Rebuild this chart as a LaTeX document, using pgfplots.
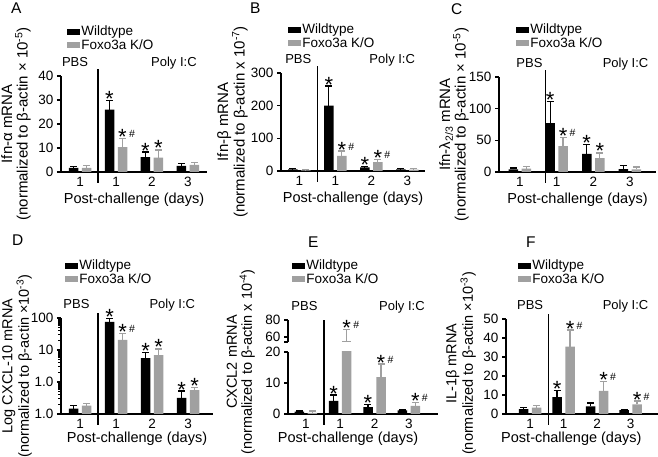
\documentclass[border=0pt]{standalone}
\usepackage{fontspec}
\setmainfont{Liberation Sans}
\usepackage{pgfplots}
\pgfplotsset{compat=1.18}
\definecolor{bg}{RGB}{160,160,160}
\newcommand{\fs}[1]{\fontsize{#1}{#1}\selectfont}
\pgfplotsset{
  panel/.style={
    scale only axis, axis lines*=left, clip mode=individual,
    axis line style={line width=1.2pt, black},
    tick style={line width=1.2pt, black},
    major tick length=4pt, tick align=outside,
    xtick={0,1,2,3}, xticklabels={1,1,2,3},
    major x tick style={draw=none},
    ymin=0,
    tick label style={font=\fs{13.5}},
    xticklabel style={yshift=2.5pt},
    /pgf/number format/assume math mode=true,
    legend style={draw=none, fill=none, font=\fs{13.5}, anchor=north west, inner sep=0pt, outer sep=0pt, row sep=-2pt, legend cell align=left},
  },
  ylab/.style 2 args={every axis y label/.style={at={([xshift=#1,yshift=#2]axis description cs:0,0.5)}, rotate=90, anchor=south, align=center, inner sep=0pt, font=\fontsize{15}{15.5}\selectfont}},
  xlab/.style 2 args={every axis x label/.style={at={([yshift=#2]axis description cs:#1,0)}, anchor=center, font=\fs{14.5}}},
  leg/.style 2 args={legend style={at={([xshift=#1,yshift=#2]axis description cs:0,1)}}},
  wt/.style={ybar, bar width=9.5pt, bar shift=-6.5pt, fill=black, draw=none, forget plot},
  ko/.style={ybar, bar width=9.5pt, bar shift=6.5pt, fill=bg, draw=none, forget plot},
  eb/.style={draw=none, mark=none, forget plot,
    error bars/.cd, y dir=plus, y explicit, error bar style={line width=1.2pt, draw=#1},
    error mark options={rotate=90, line width=1.2pt, mark size=3.5pt, draw=#1}},
}
\tikzset{
  star/.style={font=\fs{22}, anchor=base, inner sep=0pt, yshift=-6pt},
  hash/.style={font=\fs{10.5}, anchor=base, inner sep=0pt, yshift=1pt},
  grp/.style={font=\fs{13}, anchor=base, inner sep=0pt, yshift=9pt},
  sep/.style={line width=1.2pt, black},
}
\newcommand{\sw}[2]{\node[star] at ([xshift=-6.5pt]axis cs:#1,#2) {*};}
\newcommand{\sk}[2]{\node[star] at ([xshift=6.5pt]axis cs:#1,#2) {*};}
\newcommand{\skh}[2]{\node[star] at ([xshift=6.5pt]axis cs:#1,#2) {*};\node[hash] at ([xshift=16pt]axis cs:#1,#2) {\#};}
\newcommand{\legs}{%
  \addlegendimage{legend image code/.code={\fill[black] (0pt,-2.5pt) rectangle (12pt,2.5pt);}}
  \addlegendentry{Wildtype}
  \addlegendimage{legend image code/.code={\fill[bg] (0pt,-2.5pt) rectangle (12pt,2.5pt);}}
  \addlegendentry{Foxo3a K/O}}
\begin{document}
\begin{tikzpicture}
\path[use as bounding box] (0,0) rectangle (658pt,457pt);
\foreach \L/\X/\Y in {A/11/454,B/250/454,C/451/454,D/12/222,E/308/220,F/526/220}
  \node[anchor=north west, font=\fs{15.5}, inner sep=0pt] at (\X pt,\Y pt) {\L};

% ---------- A ----------
\begin{axis}[panel, at={(61pt,285pt)}, anchor=south west, width=146pt, height=96pt,
  xmin=-0.53, xmax=3.53, ymax=40, ytick={0,10,20,30,40},
  ylab={-30pt}{0pt}, xlab={0.5}{-28pt}, leg={6pt}{52pt},
  ylabel={Ifn-α mRNA\\(normalized to β-actin × 10\textsuperscript{-5})},
  xlabel={Post-challenge (days)}]
\addplot[wt] coordinates {(0,1.7) (1,26) (2,6.2) (3,2.5)};
\addplot[ko] coordinates {(0,1.7) (1,10.4) (2,6.0) (3,3.0)};
\addplot[eb=black] coordinates {(-0.18,1.7) +- (0,0.6) (0.82,26) +- (0,3.9) (1.82,6.2) +- (0,2.1) (2.82,2.5) +- (0,1.2)};
\addplot[eb=bg] coordinates {(0.18,1.7) +- (0,1.0) (1.18,10.4) +- (0,3.5) (2.18,6.0) +- (0,3.2) (3.18,3.0) +- (0,0.8)};
\legs
\draw[sep] ([yshift=-11pt]axis cs:0.5,0) -- ([yshift=7pt]axis cs:0.5,40);
\node[grp] at (axis cs:-0.14,40) {PBS};
\node[grp] at (axis cs:2.61,40) {Poly I:C};
\sw{1}{29.9} \skh{1}{13.9} \sw{2}{8.3} \sk{2}{9.2}
\end{axis}

% ---------- B ----------
\begin{axis}[panel, at={(281pt,286pt)}, anchor=south west, width=144pt, height=98pt,
  xmin=-0.51, xmax=3.49, ymax=300, ytick={0,100,200,300},
  ylab={-33pt}{0pt}, xlab={0.5}{-28pt}, leg={7pt}{51pt},
  ylabel={Ifn-β mRNA\\(normalized to β-actin x 10\textsuperscript{-7})},
  xlabel={Post-challenge (days)}]
\addplot[wt] coordinates {(0,5) (1,200) (2,11) (3,5)};
\addplot[ko] coordinates {(0,2) (1,46) (2,27) (3,4)};
\addplot[eb=black] coordinates {(-0.18,5) +- (0,2) (0.82,200) +- (0,60) (1.82,11) +- (0,2) (2.82,5) +- (0,2)};
\addplot[eb=bg] coordinates {(0.18,2) +- (0,2) (1.18,46) +- (0,15) (2.18,27) +- (0,9) (3.18,4) +- (0,4)};
\legs
\draw[sep] ([yshift=-11pt]axis cs:0.5,0) -- ([yshift=7pt]axis cs:0.5,300);
\node[grp] at (axis cs:-0.03,300) {PBS};
\node[grp] at (axis cs:2.58,300) {Poly I:C};
\sw{1}{260} \skh{1}{61} \sw{2}{13} \skh{2}{36}
\end{axis}

% ---------- C ----------
\begin{axis}[panel, at={(499pt,285pt)}, anchor=south west, width=157pt, height=95pt,
  xmin=-0.57, xmax=3.71, ymax=150, ytick={0,50,100,150},
  ylab={-30pt}{0pt}, xlab={0.5}{-28pt}, leg={17pt}{55pt},
  ylabel={Ifn-λ\textsubscript{2/3} mRNA\\(normalized to β-actin × 10\textsuperscript{-5})},
  xlabel={Post-challenge (days)}]
\addplot[wt] coordinates {(0,4.2) (1,77) (2,28.8) (3,4.7)};
\addplot[ko] coordinates {(0,5.2) (1,40.8) (2,22) (3,4.2)};
\addplot[eb=black] coordinates {(-0.177,4.2) +- (0,2.1) (0.823,77) +- (0,34) (1.823,28.8) +- (0,14) (2.823,4.7) +- (0,5.3)};
\addplot[eb=bg] coordinates {(0.177,5.2) +- (0,3.2) (1.177,40.8) +- (0,14) (2.177,22) +- (0,8) (3.177,4.2) +- (0,3.8)};
\legs
\draw[sep] ([yshift=-11pt]axis cs:0.7,0) -- ([yshift=7pt]axis cs:0.7,150);
\node[grp] at (axis cs:0.26,150) {PBS};
\node[grp] at (axis cs:2.88,150) {Poly I:C};
\sw{1}{111} \skh{1}{55} \sw{2}{43} \sk{2}{30}
\end{axis}

% ---------- D ----------
\begin{axis}[panel, ymode=log, log origin y=infty, at={(61pt,43pt)}, anchor=south west, width=152pt, height=96pt,
  xmin=-0.53, xmax=3.69, ymin=0.1, ymax=100, ytick={0.1,1,10,100}, yticklabels={1.0,1.0,10,100},
  minor ytick={}, ylab={-29pt}{0pt}, xlab={0.5}{-25pt}, leg={4pt}{60pt},
  ylabel style={font=\fontsize{14.5}{15}\selectfont},
  ylabel={Log CXCL-10 mRNA\\(normalized to β-actin ×10\textsuperscript{-3})},
  xlabel={Post-challenge (days)}]
\addplot[wt] coordinates {(0,0.147) (1,75) (2,5.6) (3,0.32)};
\addplot[ko] coordinates {(0,0.183) (1,20.7) (2,6.95) (3,0.56)};
\addplot[eb=black] coordinates {(-0.18,0.147) +- (0,0.036) (0.82,75) +- (0,20) (1.82,5.6) +- (0,2.8) (2.82,0.32) +- (0,0.2)};
\addplot[eb=bg] coordinates {(0.18,0.183) +- (0,0.024) (1.18,20.7) +- (0,11.3) (2.18,6.95) +- (0,3.85) (3.18,0.56) +- (0,0.1)};
\legs
\draw[sep] ([yshift=-11pt]axis cs:0.5,0.1) -- ([yshift=5pt]axis cs:0.5,100);
\node[grp] at (axis cs:-0.1,100) {PBS};
\node[grp] at (axis cs:2.56,100) {Poly I:C};
\sw{1}{95} \skh{1}{32} \sw{2}{8.4} \sk{2}{10.8} \sw{3}{0.52} \sk{3}{0.66}
\end{axis}

% ---------- E (lower) ----------
\begin{axis}[panel, at={(288pt,43pt)}, anchor=south west, width=150pt, height=62pt,
  xmin=-0.52, xmax=3.85, ymax=20, ytick={0,10,20},
  xlab={0.4}{-25pt},
  xlabel={Post-challenge (days)}]
\addplot[wt] coordinates {(0,0.74) (1,4.2) (2,2.2) (3,1.16)};
\addplot[ko] coordinates {(0,0.4) (1,55.5) (2,11.9) (3,2.6)};
\addplot[eb=black] coordinates {(-0.19,0.74) +- (0,0.21) (0.81,4.2) +- (0,1.9) (1.81,2.2) +- (0,0.85) (2.81,1.16) +- (0,0.1)};
\addplot[eb=bg] coordinates {(0.19,0.4) +- (0,0.55) (2.19,11.9) +- (0,4.2) (3.19,2.6) +- (0,1.1)};
\draw[sep] ([yshift=-11pt]axis cs:0.53,0) -- ([yshift=32pt]axis cs:0.53,20);
\sw{1}{6.1} \sw{2}{3.05} \skh{2}{16.1} \skh{3}{3.7}
\end{axis}
% ---------- E (upper) ----------
\begin{axis}[panel, axis x line=none, at={(288pt,115pt)}, anchor=south west, width=150pt, height=22pt,
  xmin=-0.52, xmax=3.85, ymin=54, ymax=80, ytick={54,60,80}, yticklabels={,60,80},
  leg={4pt}{62pt}]
\addplot[ko] coordinates {(1,55.5)};
\addplot[eb=bg] coordinates {(1.19,55.5) +- (0,13.5)};
\legs
\node[grp] at (axis cs:-0.04,80) {PBS};
\node[grp] at (axis cs:2.8,80) {Poly I:C};
\skh{1}{69}
\end{axis}
\node[rotate=90, anchor=south, align=center, inner sep=0pt, font=\fontsize{14.5}{15}\selectfont] at (255pt,95pt)
  {CXCL2 mRNA\\(normalized to β-actin x 10\textsuperscript{-4})};

% ---------- F ----------
\begin{axis}[panel, at={(506pt,43pt)}, anchor=south west, width=152pt, height=95pt,
  xmin=-0.72, xmax=3.82, ymax=50, ytick={0,10,20,30,40,50},
  ylab={-30pt}{3pt}, xlab={0.43}{-25pt}, leg={12pt}{61pt},
  ylabel style={font=\fontsize{14.5}{15}\selectfont},
  ylabel={IL-1β mRNA\\(normalized to β-actin ×10\textsuperscript{-3})},
  xlabel={Post-challenge (days)}]
\addplot[wt] coordinates {(0,2.6) (1,8.9) (2,4.0) (3,2.1)};
\addplot[ko] coordinates {(0,3.3) (1,35.5) (2,12.2) (3,5.1)};
\addplot[eb=black] coordinates {(-0.194,2.6) +- (0,0.9) (0.806,8.9) +- (0,3.5) (1.806,4.0) +- (0,1.8) (2.806,2.1) +- (0,0.35)};
\addplot[eb=bg] coordinates {(0.194,3.3) +- (0,1.2) (1.194,35.5) +- (0,8.7) (2.194,12.2) +- (0,4.9) (3.194,5.1) +- (0,1.7)};
\legs
\draw[sep] ([yshift=-11pt]axis cs:0.54,0) -- ([yshift=5pt]axis cs:0.54,50);
\node[grp] at (axis cs:0,50) {PBS};
\node[grp] at (axis cs:2.85,50) {Poly I:C};
\sw{1}{12.4} \skh{1}{44.2} \skh{2}{17.1} \skh{3}{6.8}
\end{axis}
\end{tikzpicture}
\end{document}
